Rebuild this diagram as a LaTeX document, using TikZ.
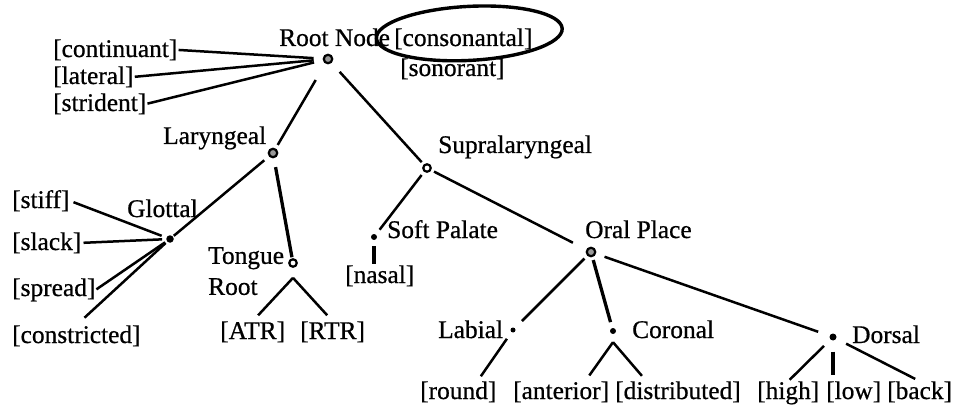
\documentclass[tikz,border=0pt]{standalone}
\usepackage{fontspec}
\setmainfont{Liberation Serif}[FakeBold=0.7]
\usetikzlibrary{calc,positioning,shapes.geometric}
\tikzstyle{word} = [inner sep=0pt, anchor=base west,
    font=\fontsize{25.4}{31}\selectfont]
\tikzstyle{line} = [draw, line width=2.5pt]
\tikzset{
  dot/.style={
    circle,
    fill=black,
    inner sep=0pt,
    minimum size=6pt},
  ring/.style={
    circle,
    draw=black, line width=2.2pt,
    fill=black!40,
    inner sep=0pt,
    minimum size=8.5pt},
  hollow/.style={ring, fill=white, minimum size=7.5pt},
  heavy/.style={line, line width=3.3pt},
  circled/.style={draw, line width=3.4pt},
}

\begin{document}
\begin{tikzpicture}[x=1pt, y=-1pt]
    \useasboundingbox (0,0) rectangle (956,409);
    % Place nodes
    \node [ring] (root) at (328,59) {};
    \node [ring] (lar) at (273,153) {};
    \node [hollow] (supra) at (427,168) {};
    \node [dot, minimum size=7.5pt] (glot) at (170,239) {};
    \node [hollow] (tongue) at (293,263) {};
    \node [dot] (soft) at (374,237) {};
    \node [ring] (oral) at (591,252) {};
    \node [dot, minimum size=5pt] (labial) at (513,330) {};
    \node [dot] (coronal) at (613,331) {};
    \node [dot, minimum size=7pt] (dorsal) at (833,337) {};
    % Labels
    \node [word] (rootName) at (279,46) {Root Node};
    \node [word] (cons) at (394,46) {[consonantal]};
    \node [word] (son) at (400,76) {[sonorant]};
    \node [word] (contin) at (53,57) {[continuant]};
    \node [word] (lateral) at (53,84) {[lateral]};
    \node [word] (strident) at (53,111) {[strident]};
    \node [word] (larName) at (163,144) {Laryngeal};
    \node [word] (supraName) at (438,153) {Supralaryngeal};
    \node [word] (glotName) at (127,217) {Glottal};
    \node [word] (stiff) at (12,208) {[stiff]};
    \node [word] (slack) at (12,250) {[slack]};
    \node [word] (spread) at (12,296) {[spread]};
    \node [word] (constr) at (12,343) {[constricted]};
    \node [word, anchor=north west, align=left] (tongueName) at (208,247) {Tongue\\Root};
    \node [word] (atr) at (220,339) {[ATR]};
    \node [word] (rtr) at (300,339) {[RTR]};
    \node [word] (softName) at (387,238) {Soft Palate};
    \node [word] (nasal) at (345,283) {[nasal]};
    \node [word] (oralName) at (585,238) {Oral Place};
    \node [word] (labName) at (438,338) {Labial};
    \node [word] (corName) at (632,338) {Coronal};
    \node [word] (dorName) at (852,343) {Dorsal};
    \node [word] (round) at (420,399) {[round]};
    \node [word] (ant) at (513,399) {[anterior]};
    \node [word] (dist) at (615,399) {[distributed]};
    \node [word] (high) at (757,399) {[high]};
    \node [word] (low) at (826,399) {[low]};
    \node [word] (back) at (887,399) {[back]};
    \coordinate [below=10pt of tongue.south] (tongueFork);
    \coordinate [below=8pt of coronal.south] (coronalFork);
    % Draw edges
    \path [line, shorten <=19pt, shorten >=4pt] (root) -- (lar);
    \path [line, shorten <=12pt, shorten >=3pt] (root) -- (supra);
    \path [line, shorten <=1pt, shorten >=9pt] (contin.east) -- (root);
    \path [line, shorten <=1pt, shorten >=9pt] (lateral.east) -- (root);
    \path [line, shorten <=1pt, shorten >=9pt] (strident.east) -- (root);
    \path [line, shorten <=6pt, shorten >=1pt] (lar) -- (glot);
    \path [heavy, shorten <=9pt, shorten >=1pt] (lar) -- (tongue);
    \path [line, shorten <=4pt, shorten >=5pt] (stiff.east) -- (glot);
    \path [line, shorten <=2pt, shorten >=4pt] (slack.east) -- (glot);
    \path [line, shorten <=1pt, shorten >=2pt] (spread.east) -- (glot);
    \path [line, shorten <=11pt, shorten >=2pt] (constr.north) -- (glot);
    \path [line, shorten >=8pt] (tongueFork) -- (atr.north);
    \path [line, shorten >=8pt] (tongueFork) -- (rtr.north);
    \path [line, shorten <=4pt, shorten >=6pt] (supra) -- (soft);
    \path [line, shorten <=3pt, shorten >=15pt] (supra) -- (oral);
    \path [heavy, shorten <=6pt, shorten >=1pt] (soft) -- (soft |- nasal.north);
    \path [line, shorten <=4pt, shorten >=10pt] (oral) -- (labial);
    \path [heavy, shorten <=3pt, shorten >=6pt] (oral) -- (coronal);
    \path [line, shorten <=9pt, shorten >=12pt] (oral) -- (dorsal);
    \path [line, shorten <=8pt, shorten >=6pt] (labial) -- ($(round.north)!0.5!(round.north east)$);
    \path [line, shorten >=7pt] (coronalFork) -- ($(ant.north)!0.5!(ant.north east)$);
    \path [line, shorten >=7pt] (coronalFork) -- ($(dist.north)!0.5!(dist.north west)$);
    \path [line, shorten <=9pt, shorten >=2pt] (dorsal) -- (high.north);
    \path [heavy, shorten <=11pt, shorten >=6pt] (dorsal) -- (dorsal |- low.north);
    \path [line, shorten <=11pt, shorten >=5pt] (dorsal) -- (back.north);
    % Ring round [consonantal]
    \coordinate (consRing) at ($(cons.center)+(6,-5.5)$);
    \draw [circled, rotate around={3:(consRing)}] (consRing) ellipse [x radius=93, y radius=27];
\end{tikzpicture}
\end{document}
